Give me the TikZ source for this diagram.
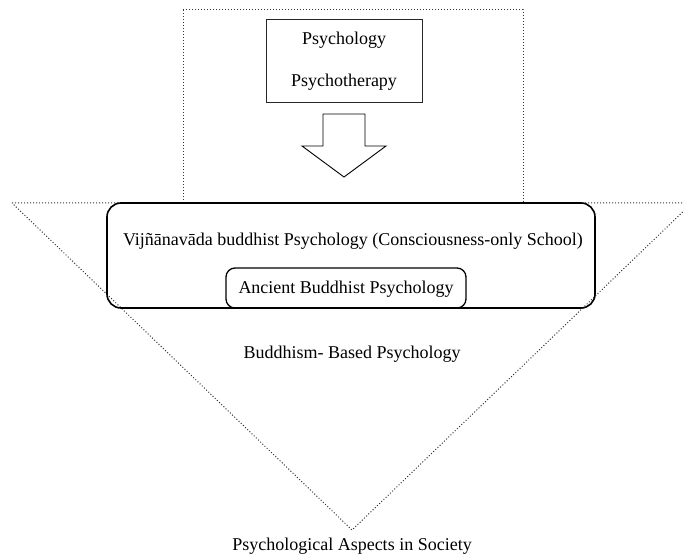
\documentclass[tikz,border=0pt]{standalone}
\usepackage{fontspec}
\setmainfont{Liberation Serif}
\begin{document}
\begin{tikzpicture}[x=1pt,y=-1pt,
  lbl/.style={font=\fontsize{18}{21}\selectfont, inner sep=0pt},
  dotline/.style={dotted, line width=1pt, black!80},
  solidbox/.style={draw, line width=1pt, black!85},
  roundbox/.style={draw, line width=1.6pt, rounded corners=14pt}]
\useasboundingbox (0,0) rectangle (683,556);
% dotted frame and triangle
\draw[dotline] (183,10) rectangle (523,203);
\coordinate (tl) at (12,203);
\coordinate (tr) at (692,203);
\coordinate (apex) at (352,530);
\draw[dotline] (tl) -- (tr) -- (apex) -- cycle;
% top box
\node[solidbox, minimum width=156pt, minimum height=83pt] (top) at (344,61.5) {};
\node[lbl] (psy) at (344,40) {Psychology};
\node[lbl] (psyth) at (344,82) {Psychotherapy};
% big arrow
\coordinate (arr) at (344,114);
\draw[line width=0.9pt] (arr) ++(-21,0) -- ++(0,32) -- ++(-21,0) -- (344,177) -- (386,146) -- ++(-21,0) -- ++(0,-32) -- cycle;
% rounded boxes
\draw[roundbox] (107,203) rectangle (595,308);
\node[lbl] (vij) at (353,241) {Vijñānavāda buddhist Psychology (Consciousness-only School)};
\draw[roundbox, rounded corners=9pt, line width=1.3pt] (226,268) rectangle (466,308);
\node[lbl] (anc) at (346,289) {Ancient Buddhist Psychology};
\node[lbl] (bud) at (352,354) {Buddhism- Based Psychology};
\node[lbl] (soc) at (352,546) {Psychological Aspects in Society};
\end{tikzpicture}
\end{document}
